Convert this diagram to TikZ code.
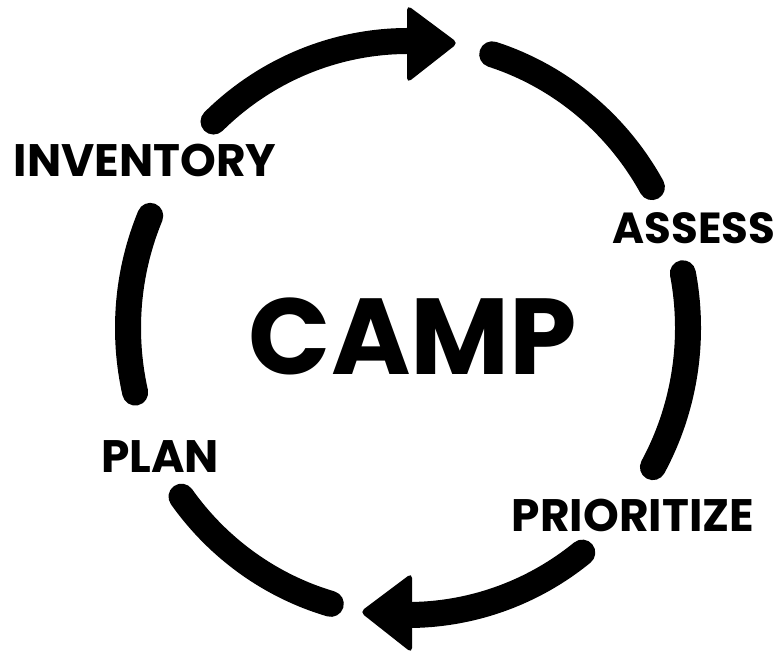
\documentclass[tikz,border=0pt]{standalone}
\usepackage{fontspec}
\setmainfont{Poppins}
\begin{document}
\begin{tikzpicture}[x=1pt,y=1pt,
  seg/.style={line width=26pt, line cap=round},
  head/.style={fill=black, rounded corners=5pt},
  lbl/.style={inner sep=0pt, font=\bfseries\fontsize{45.5}{45.5}\selectfont},
  big/.style={inner sep=0pt, font=\bfseries\fontsize{108}{108}\selectfont}]
\useasboundingbox (0,0) rectangle (779,658);
\coordinate (c) at (408,330);
% arcs
\draw[seg] (c) ++(134:280pt and 287pt) arc[start angle=134, end angle=90, x radius=280pt, y radius=287pt];
\draw[seg] (c) ++(72.5:280pt and 287pt) arc[start angle=72.5, end angle=29.4, x radius=280pt, y radius=287pt];
\draw[seg] (c) ++(11:280pt and 287pt) arc[start angle=11, end angle=-29, x radius=280pt, y radius=287pt];
\draw[seg] (c) ++(-51.5:280pt and 287pt) arc[start angle=-51.5, end angle=-89, x radius=280pt, y radius=287pt];
\draw[seg] (c) ++(-106:280pt and 287pt) arc[start angle=-106, end angle=-144, x radius=280pt, y radius=287pt];
\draw[seg] (c) ++(193:280pt and 287pt) arc[start angle=193, end angle=157, x radius=280pt, y radius=287pt];
% arrow heads
\fill[head] (407,653) -- (458,615) -- (407,575) -- cycle;
\fill[head] (412,85) -- (360,46) -- (412,5) -- cycle;
% labels
\node[big] (camp) at (413,322) {CAMP};
\node[lbl] (inv) at (145,498) {INVENTORY};
\node[lbl, font=\bfseries\fontsize{43.5}{43.5}\selectfont] (ass) at (694,430) {ASSESS};
\node[lbl] (pri) at (633,143) {PRIORITIZE};
\node[lbl] (plan) at (160,201) {PLAN};
\end{tikzpicture}
\end{document}
